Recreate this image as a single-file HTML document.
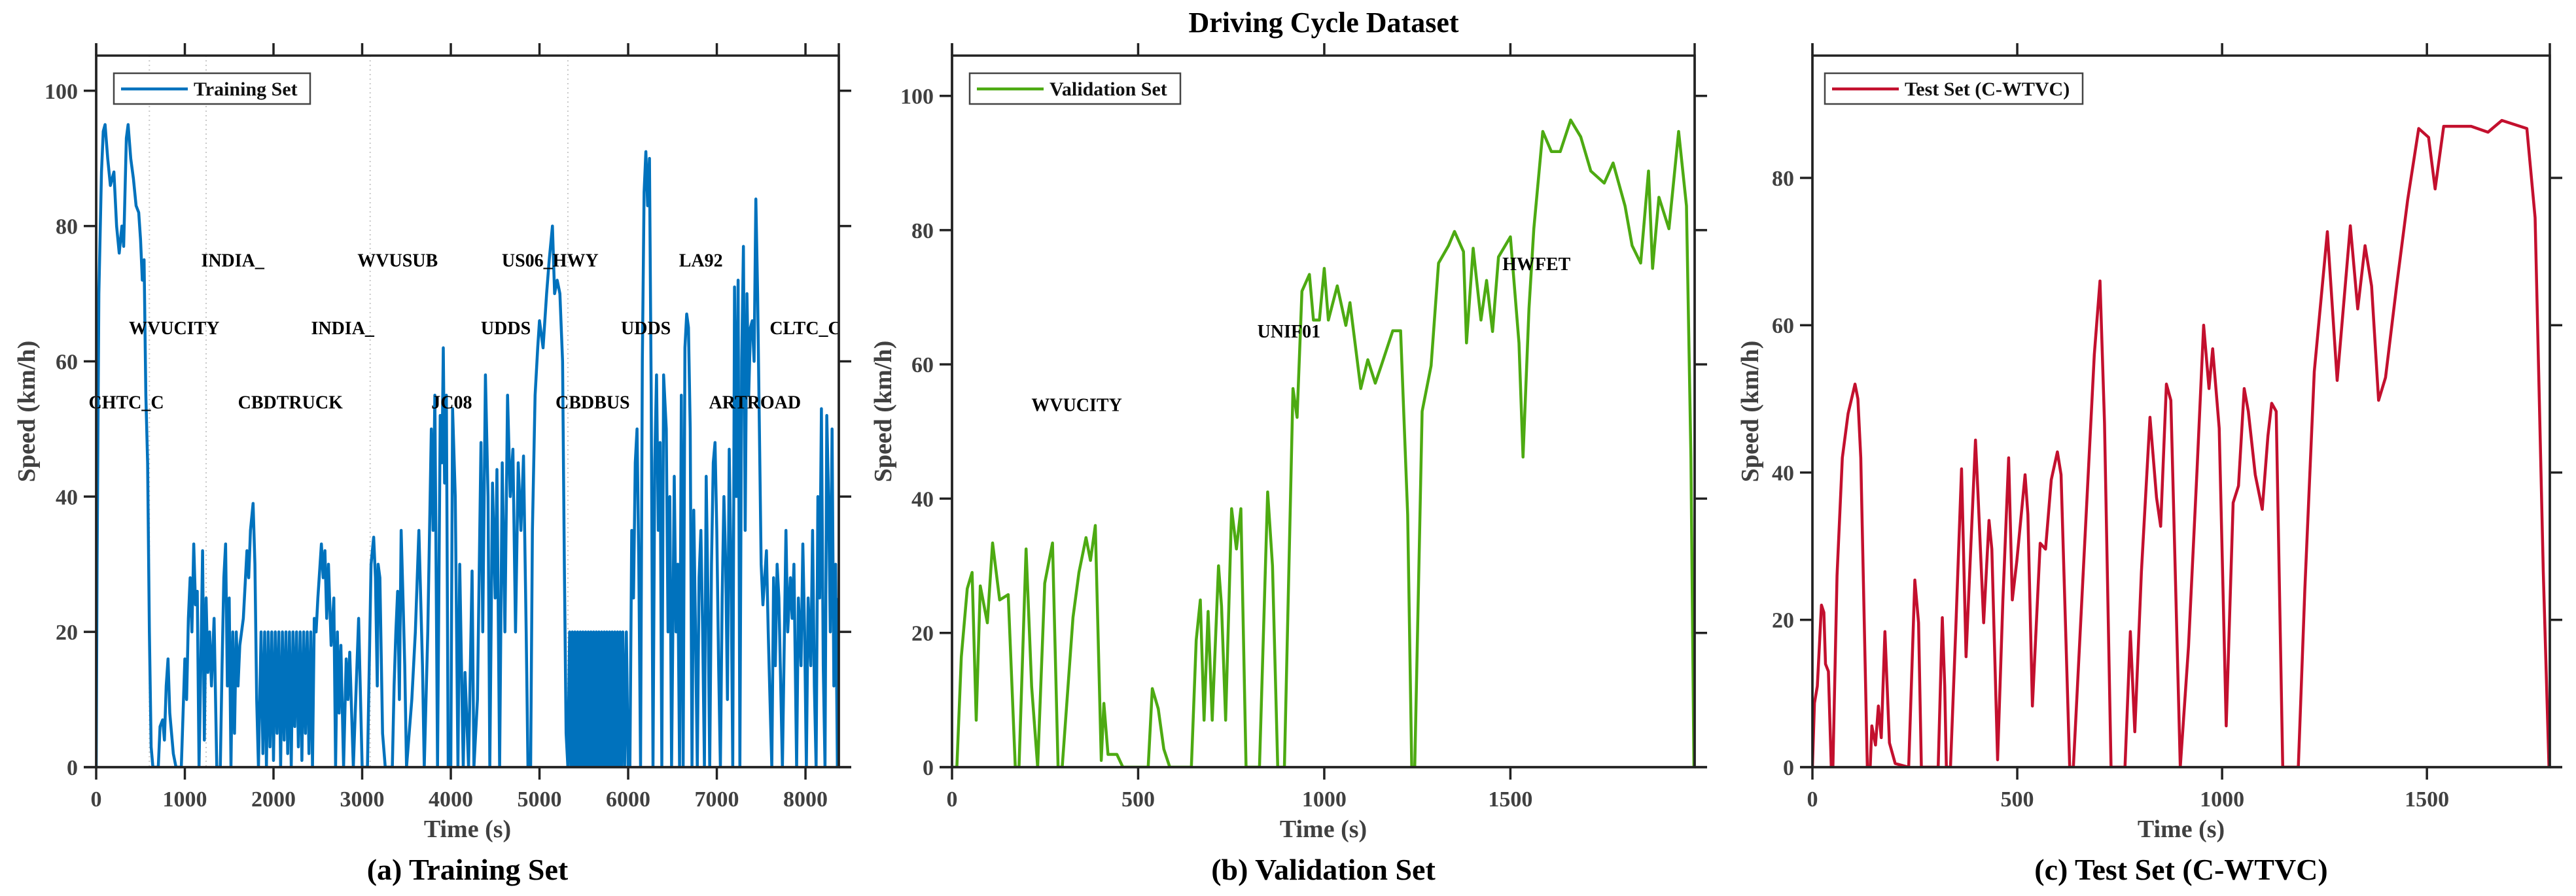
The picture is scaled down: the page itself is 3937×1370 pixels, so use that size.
<!DOCTYPE html>
<html><head><meta charset="utf-8"><style>
html,body{margin:0;padding:0;background:#fff;}
svg{display:block;font-family:"Liberation Serif",serif;}
</style></head><body>
<svg id="fig" width="3937" height="1370" viewBox="0 0 3937 1370" xmlns="http://www.w3.org/2000/svg">
<text x="2023" y="49" text-anchor="middle" font-size="44" font-weight="bold" fill="#000">Driving Cycle Dataset</text>
</svg>
<script>
// ---- Panel A: training set ----
const trainT = [0,10,30,60,80,100,130,160,200,230,260,290,310,340,360,390,420,450,480,500,520,540,560,580,600,620,640,700,720,750,770,790,810,830,850,870,900,960,980,1000,1020,1040,1060,1080,1100,1120,1140,1160,1180,1200,1220,1240,1260,1280,1300,1330,1360,1400,1420,1440,1460,1480,1500,1520,1540,1560,1580,1600,1620,1660,1700,1720,1740,1770,1790,1810,1830,1860,1880,1900,1920,1940,1960,1980,2000,2020,2040,2060,2080,2100,2120,2140,2160,2180,2200,2220,2240,2260,2280,2300,2320,2340,2360,2380,2400,2420,2440,2460,2480,2500,2540,2560,2580,2600,2620,2650,2680,2700,2720,2740,2760,2790,2820,2840,2860,2900,2960,3000,3060,3100,3130,3150,3170,3180,3200,3230,3260,3340,3360,3380,3400,3420,3440,3460,3480,3500,3560,3600,3640,3680,3700,3740,3780,3800,3820,3850,3880,3900,3915,3930,3950,3970,4000,4020,4050,4080,4100,4140,4160,4200,4240,4260,4300,4340,4360,4390,4420,4440,4470,4500,4520,4550,4580,4610,4640,4670,4700,4730,4760,4790,4820,4850,4870,4900,4920,4950,4980,5000,5040,5080,5110,5146,5170,5200,5230,5260,5280,5300,5320,5340,5355,5370,5385,5400,5415,5430,5445,5460,5475,5490,5505,5520,5535,5550,5565,5580,5595,5610,5625,5640,5655,5670,5685,5700,5715,5730,5745,5760,5775,5790,5805,5820,5835,5850,5865,5880,5895,5910,5925,5940,5960,5980,6000,6020,6040,6060,6080,6100,6120,6140,6160,6180,6200,6220,6240,6260,6280,6300,6320,6340,6360,6380,6400,6430,6450,6470,6490,6520,6540,6560,6580,6600,6620,6640,6660,6680,6700,6720,6740,6760,6780,6800,6820,6840,6860,6880,6900,6920,6940,6960,6980,7000,7020,7040,7060,7080,7100,7120,7140,7160,7180,7200,7220,7240,7260,7280,7300,7320,7340,7360,7380,7400,7420,7440,7460,7480,7500,7520,7540,7560,7580,7600,7620,7640,7660,7680,7700,7740,7780,7800,7830,7850,7870,7900,7920,7950,7970,7990,8010,8030,8060,8080,8100,8120,8140,8160,8180,8200,8220,8240,8260,8280,8300,8320,8340,8360,8376];
const trainV = [0,30,70,88,94,95,90,86,88,80,76,80,77,93,95,90,87,83,82,78,72,75,55,45,20,3,0,0,6,7,4,12,16,8,5,2,0,0,8,16,10,22,28,20,33,24,26,0,15,32,4,25,14,20,12,22,0,0,15,28,33,12,25,0,20,5,20,12,18,22,32,28,35,39,30,10,0,20,2,20,0,20,3,20,1,20,5,20,0,20,4,20,2,20,0,20,6,20,3,20,1,20,5,20,2,20,0,22,20,25,33,28,32,22,30,18,25,0,20,8,18,0,16,10,17,0,22,0,0,30,34,28,12,30,28,5,0,0,12,20,26,10,35,25,15,0,10,20,35,15,0,20,50,35,55,0,52,45,62,42,55,0,0,53,40,0,30,0,14,0,29,0,10,48,20,58,40,0,42,25,44,0,45,20,55,40,47,20,45,35,46,20,0,0,35,55,62,66,62,70,75,80,70,72,70,60,30,5,0,20,0,20,0,20,0,20,0,20,0,20,0,20,0,20,0,20,0,20,0,20,0,20,0,20,0,20,0,20,0,20,0,20,0,20,0,20,0,20,0,20,0,20,0,0,35,25,45,50,30,0,60,85,91,83,90,55,0,45,58,35,48,0,58,50,20,40,0,43,20,30,0,55,0,62,67,65,50,0,38,20,0,28,35,20,0,43,25,0,30,45,48,35,15,0,25,40,30,10,47,30,0,71,40,72,0,60,77,35,70,55,65,66,60,84,70,50,30,24,28,32,20,10,0,28,15,30,25,0,35,20,28,22,30,0,25,15,33,20,0,25,15,35,12,0,40,25,53,15,0,52,40,20,50,12,30,0,25,10,22,0,20];
const trainLabels = ["CHTC_C","WVUCITY","INDIA_","CBDTRUCK","INDIA_","WVUSUB","JC08","UDDS","US06_HWY","CBDBUS","UDDS","LA92","ARTROAD","CLTC_C"];
const trainLabelT = [340,880,1540,2190,2780,3400,4010,4620,5120,5600,6200,6820,7430,8000];
const trainLabelV = [54,65,75,54,65,75,54,65,75,54,65,75,54,65];
const trainBoundaries = [600,1240,3090,5320];
const trainXTicks = [0,1000,2000,3000,4000,5000,6000,7000,8000];
const trainYTicks = [0,20,40,60,80,100];

// ---- Panel B: validation set ----
const valT = [0,13,25,41,54,65,76,95,109,128,151,170,180,199,214,230,249,270,285,296,325,341,360,372,385,401,408,419,443,459,527,538,554,569,585,643,656,667,677,688,699,716,724,735,751,764,776,790,826,848,861,875,893,916,927,940,960,971,987,1000,1011,1035,1058,1069,1098,1117,1137,1153,1184,1205,1224,1235,1243,1263,1287,1307,1334,1350,1374,1382,1400,1421,1436,1452,1468,1500,1523,1534,1550,1563,1587,1610,1634,1662,1689,1716,1752,1776,1808,1827,1850,1871,1882,1899,1926,1952,1973,1985,1993];
const valV = [0,0,16.4,26.6,29,7,27,21.5,33.4,24.9,25.7,0,0,32.5,12,0,27.4,33.4,0,0,22.3,29,34.2,30.8,36,1,9.5,1.9,1.9,0,0,11.7,8.7,2.7,0,0,18.9,24.9,7,23.2,7,30,24,7,38.5,32.5,38.5,0,0,41,30,0,0,56.4,52.1,70.9,73.4,66.6,66.6,74.3,66.6,71.7,65.8,69.2,56.4,60.7,57.2,59.8,65,65,37.6,0,0,53,59.8,75.1,77.7,79.8,76.8,63.2,77.3,66.6,72.5,64.9,76,79,63.2,46.2,68.3,80.2,94.7,91.7,91.7,96.4,93.9,88.8,87,90,83.6,77.7,75.1,88.8,74.3,84.9,80.2,94.7,83.6,46.2,0];
const valLabels = ["WVUCITY","UNIF01","HWFET"];
const valLabelT = [335,905,1570];
const valLabelV = [54,65,75];
const valXTicks = [0,500,1000,1500];
const valYTicks = [0,20,40,60,80,100];

// ---- Panel C: test set (C-WTVC) ----
const testT = [0,5,12,22,28,32,39,46,50,60,73,87,104,111,118,134,141,145,154,161,168,177,188,202,235,250,259,266,307,317,323,327,337,350,364,375,384,398,404,418,431,438,452,465,479,488,499,519,526,537,556,569,583,598,607,628,637,661,688,702,713,729,763,776,787,803,824,840,850,864,875,898,918,939,955,968,977,993,1010,1027,1040,1054,1064,1081,1098,1112,1121,1132,1148,1186,1202,1225,1257,1281,1313,1331,1349,1365,1382,1399,1426,1453,1480,1504,1520,1541,1608,1649,1683,1744,1764,1784,1798];
const testV = [0,8.7,11,22,21,14,13,0,0,26,42,48,52,50,42,0,0,5.6,3,8.3,4,18.4,3.3,0.5,0,25.4,19.6,0,0,20.3,11,0,0,18.8,40.5,15,26.5,44.4,37.4,19.6,33.5,29.6,1,22.7,42,22.7,28,39.7,34.3,8.3,30.4,29.6,39,42.8,39.7,0,0,26.5,56,66,46.7,0,0,18.4,4.8,26.5,47.5,36.6,32.7,52,49.8,0,16.4,40.5,60,51.4,56.8,46,5.6,35.9,38.2,51.4,48.3,39.7,35,45,49.4,48.3,0,0,24.2,53.7,72.7,52.5,73.5,62.2,70.8,65.3,49.8,52.9,65.3,77,86.7,85.5,78.5,87,87,86.2,87.8,86.7,74.6,26.5,0];
const testXTicks = [0,500,1000,1500];
const testYTicks = [0,20,40,60,80];

const svg = document.getElementById('fig');
const NS = 'http://www.w3.org/2000/svg';
function mk(tag, attrs, parent){
  const e = document.createElementNS(NS, tag);
  for (const k in attrs) e.setAttribute(k, attrs[k]);
  (parent||svg).appendChild(e);
  return e;
}

function panel(p){
  const g = mk('g', {});
  
  
  const xs = t => p.L + t * (p.R - p.L) / p.xmax;
  const ys = v => p.B - v * (p.B - p.T) / p.ymax;
  const clipId = p.id + '-clip';
  const cp = mk('clipPath', {id: clipId}, g);
  mk('rect', {x: p.L, y: p.T, width: p.R - p.L, height: p.B - p.T}, cp);
  const lclipId = p.id + '-lclip';
  const lcp = mk('clipPath', {id: lclipId}, g);
  mk('rect', {x: p.L - 60, y: p.T, width: p.R - p.L + 60, height: p.B - p.T}, lcp);

  (p.bounds || []).forEach(b => {
    const l = mk('line', {x1: xs(b), x2: xs(b), y1: p.T, y2: p.B, stroke: '#c8c8c8', 'stroke-width': 2, 'stroke-dasharray': '2 5'}, g);
    
    
  });

  let d = '';
  p.t.forEach((t, i) => { d += (i ? 'L' : 'M') + xs(t).toFixed(1) + ' ' + ys(p.v[i]).toFixed(1); });
  const path = mk('path', {d: d, fill: 'none', stroke: p.color, 'stroke-width': 4.5, 'stroke-linejoin': 'round', 'clip-path': 'url(#' + clipId + ')'}, g);
  
  

  (p.labels || []).forEach((s, i) => {
    const tx = mk('text', {x: xs(p.labelT[i]), y: ys(p.labelV[i]) + 10, 'text-anchor': 'middle', 'font-size': 28, 'font-weight': 'bold', fill: '#000', 'clip-path': 'url(#' + lclipId + ')'}, g);
    tx.textContent = s;
    
    
  });

  const ax = '#222', aw = 3.5;
  mk('rect', {x: p.L, y: p.T, width: p.R - p.L, height: p.B - p.T, fill: 'none', stroke: ax, 'stroke-width': aw}, g);
  mk('line', {x1: p.L - 19, x2: p.R + 19, y1: p.B, y2: p.B, stroke: ax, 'stroke-width': aw}, g);
  mk('line', {x1: p.L, x2: p.L, y1: p.T - 19, y2: p.B, stroke: ax, 'stroke-width': aw}, g);
  mk('line', {x1: p.R, x2: p.R, y1: p.T - 19, y2: p.B, stroke: ax, 'stroke-width': aw}, g);

  p.xticks.forEach(t => {
    const x = xs(t);
    mk('line', {x1: x, x2: x, y1: p.B, y2: p.B + 19, stroke: ax, 'stroke-width': aw}, g);
    mk('line', {x1: x, x2: x, y1: p.T, y2: p.T - 19, stroke: ax, 'stroke-width': aw}, g);
    const tl = mk('text', {x: x, y: p.B + 60, 'text-anchor': 'middle', 'font-size': 34, 'font-weight': 'bold', fill: '#404040'}, g);
    tl.textContent = t;
    
    
  });
  p.yticks.forEach(v => {
    const y = ys(v);
    mk('line', {x1: p.L - 19, x2: p.L, y1: y, y2: y, stroke: ax, 'stroke-width': aw}, g);
    mk('line', {x1: p.R, x2: p.R + 19, y1: y, y2: y, stroke: ax, 'stroke-width': aw}, g);
    const tl = mk('text', {x: p.L - 28, y: y + 12, 'text-anchor': 'end', 'font-size': 34, 'font-weight': 'bold', fill: '#404040'}, g);
    tl.textContent = v;
    
    
  });

  const xl = mk('text', {x: (p.L + p.R) / 2, y: 1280, 'text-anchor': 'middle', 'font-size': 38, 'font-weight': 'bold', fill: '#404040'}, g);
  xl.textContent = 'Time (s)';
  
  
  const yl = mk('text', {x: 0, y: 0, transform: 'translate(' + (p.yLabelX + 13) + ',629) rotate(-90)', 'text-anchor': 'middle', 'font-size': 38, 'font-weight': 'bold', fill: '#404040'}, g);
  yl.textContent = 'Speed (km/h)';
  
  
  const cap = mk('text', {x: (p.L + p.R) / 2, y: 1345, 'text-anchor': 'middle', 'font-size': 46, 'font-weight': 'bold', fill: '#000'}, g);
  cap.textContent = p.caption;
  
  

  const lg = mk('g', {}, g);
  
  
  mk('rect', {x: p.legX, y: 112, width: p.legW, height: 47, fill: '#fff', stroke: '#444', 'stroke-width': 2.5}, lg);
  mk('line', {x1: p.legX + 11, x2: p.legX + 113, y1: 136, y2: 136, stroke: p.color, 'stroke-width': 4.5}, lg);
  const lt = mk('text', {x: p.legX + 122, y: 146, 'font-size': 30, 'font-weight': 'bold', fill: '#111'}, lg);
  lt.textContent = p.legend;
  
  
}

panel({id: 'training', L: 147, R: 1282, T: 85, B: 1173, xmax: 8376, ymax: 105.2, t: trainT, v: trainV,
  color: '#0072BD', labels: trainLabels, labelT: trainLabelT, labelV: trainLabelV, bounds: trainBoundaries,
  xticks: trainXTicks, yticks: trainYTicks, caption: '(a) Training Set', legend: 'Training Set', legX: 174, legW: 300, yLabelX: 40});
panel({id: 'validation', L: 1455, R: 2590, T: 85, B: 1173, xmax: 1995, ymax: 106, t: valT, v: valV,
  color: '#4DAA12', labels: valLabels, labelT: valLabelT, labelV: valLabelV,
  xticks: valXTicks, yticks: valYTicks, caption: '(b) Validation Set', legend: 'Validation Set', legX: 1482, legW: 322, yLabelX: 1349});
panel({id: 'test', L: 2770, R: 3897, T: 85, B: 1173, xmax: 1800, ymax: 96.6, t: testT, v: testV,
  color: '#C3102E', xticks: testXTicks, yticks: testYTicks, caption: '(c) Test Set (C-WTVC)', legend: 'Test Set (C-WTVC)', legX: 2789, legW: 394, yLabelX: 2674});
</script>
</body></html>
